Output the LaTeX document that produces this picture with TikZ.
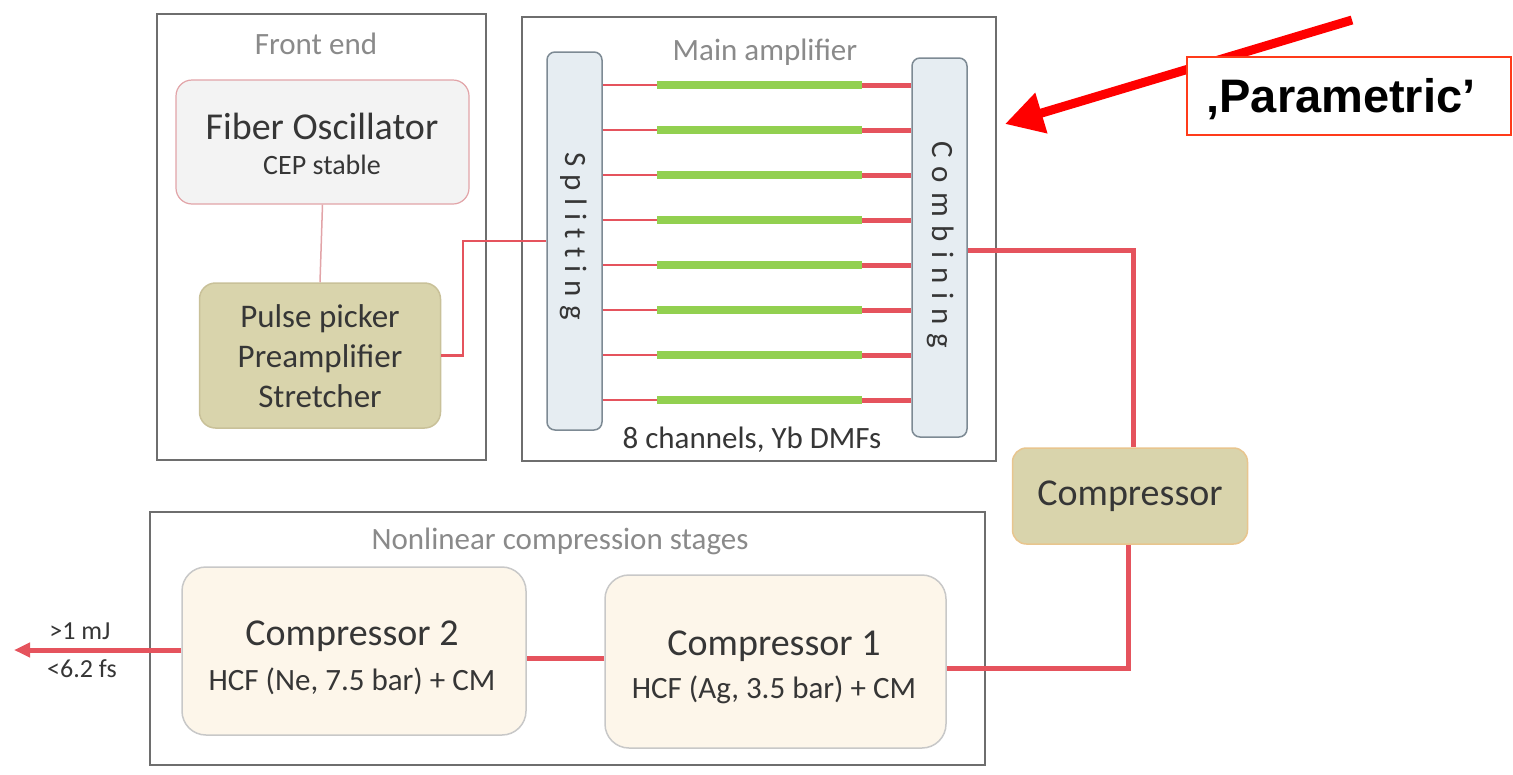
\documentclass[tikz,border=0pt]{standalone}
\usepackage{fontspec}
\setmainfont{Carlito}
\newfontfamily\arialfont{Liberation Sans}
\usetikzlibrary{arrows.meta,calc}
\definecolor{framegray}{HTML}{6E6E6E}
\definecolor{titlegray}{HTML}{8A8A8A}
\definecolor{textgray}{HTML}{363636}
\definecolor{oscfill}{HTML}{F3F3F3}
\definecolor{oscdraw}{HTML}{E2A4A8}
\definecolor{khaki}{HTML}{D9D4AC}
\definecolor{khakidraw}{HTML}{C9C199}
\definecolor{compdraw}{HTML}{E8C58E}
\definecolor{bluefill}{HTML}{E6EDF2}
\definecolor{bluedraw}{HTML}{7D8A94}
\definecolor{fibgreen}{HTML}{92D050}
\definecolor{beamred}{HTML}{E5535D}
\definecolor{creamfill}{HTML}{FDF6EA}
\definecolor{creamdraw}{HTML}{C8C8C8}
\definecolor{paramdraw}{HTML}{FF3B1A}
\begin{document}
\begin{tikzpicture}[x=1pt,y=-1pt,
  frame/.style={draw=framegray, line width=2.5pt, inner sep=0pt},
  title/.style={text=titlegray, font=\fontsize{31}{36}\selectfont},
  khakibox/.style={draw=khakidraw, fill=khaki, line width=1.5pt, rounded corners=16pt, text=textgray, align=center, inner sep=0pt},
  bluebox/.style={draw=bluedraw, fill=bluefill, line width=1.5pt, rounded corners=8pt, inner sep=0pt},
  creambox/.style={draw=creamdraw, fill=creamfill, line width=1.5pt, rounded corners=24pt, text=textgray, align=center, inner sep=0pt},
  thinbeam/.style={draw=beamred, line width=2pt},
  thickbeam/.style={draw=beamred, line width=5pt},
  fiber/.style={draw=fibgreen, line width=8pt}
]
\useasboundingbox[fill=white] (0,0) rectangle (1513,774);

% frames
\node[frame, minimum width=329, minimum height=446] (fe) at (321.5,237) {};
\node[frame, minimum width=474, minimum height=444] (ma) at (759,239) {};
\node[frame, minimum width=835, minimum height=253] (nl) at (567.5,638.5) {};

\node[title] (fet) at (316,44) {Front end};
\node[title] (mat) at (765,52) {Main amplifier};
\node[title] (nlt) at (560,541) {Nonlinear compression stages};
\node[title, text=textgray] (ch) at (752,440) {8 channels, Yb DMFs};

% front end
\node[draw=oscdraw, fill=oscfill, line width=1.2pt, rounded corners=16pt, minimum width=293, minimum height=124, align=center, text=textgray, inner sep=0pt] (osc) at (322.5,142) {};
\node[text=textgray, font=\fontsize{38}{40}\selectfont] (osct) at (322,126) {Fiber Oscillator};
\node[text=textgray, font=\fontsize{28}{30}\selectfont] (oscs) at (322,165) {CEP stable};
\node[khakibox, minimum width=241, minimum height=145] (pp) at (320,355.5) {};
\node[text=textgray, font=\fontsize{33}{35}\selectfont, align=center] (ppt) at (320,356) {Pulse picker\\[5pt]Preamplifier\\[5pt]Stretcher};
\draw[draw=oscdraw, line width=1.5pt] (osc.south) -- (pp.north);

% splitting / combining
\node[bluebox, minimum width=55, minimum height=378] (split) at (574.5,241) {};
\node[bluebox, minimum width=55, minimum height=379] (comb) at (939.5,247.5) {};
\node[rotate=-90, text=textgray, font=\fontsize{31}{33}\selectfont] (splitt) at (574,236) {S\kern8pt p\kern8pt l\kern8pt i\kern8pt t\kern8pt t\kern8pt i\kern8pt n\kern8pt g};
\node[rotate=-90, text=textgray, font=\fontsize{31}{33}\selectfont] (combt) at (941,245) {C\kern9pt o\kern9pt m\kern9pt b\kern9pt i\kern9pt n\kern9pt i\kern9pt n\kern9pt g};

\foreach \i in {0,...,7}{
  \pgfmathsetmacro{\yy}{85+45*\i}
  \draw[thinbeam] (split.east |- 0,\yy) -- (657,\yy);
  \draw[thickbeam] (860,\yy) -- (comb.west |- 0,\yy);
  \draw[fiber] (657,\yy) -- (862,\yy);
}

% front end to splitting
\coordinate (j1) at (463,300);
\draw[thinbeam, line width=2.5pt] (pp.east) -| (j1) |- (split.west);

% compressor
\node[khakibox, draw=compdraw, minimum width=235, minimum height=96, rounded corners=14pt, font=\fontsize{38}{40}\selectfont] (comp) at (1130,496) {Compressor};
\coordinate (j2) at (1133,250);
\draw[thickbeam] (comb.east |- j2) -- (j2) -- (j2 |- comp.north);

% nonlinear stages
\node[creambox, minimum width=344, minimum height=168] (c2) at (354,651) {};
\node[text=textgray, font=\fontsize{38}{40}\selectfont] (c2a) at (352,636) {Compressor 2};
\node[text=textgray, font=\fontsize{31}{33}\selectfont] (c2b) at (352,681) {HCF (Ne, 7.5 bar) + CM};
\node[creambox, minimum width=341, minimum height=173] (c1) at (775.5,661.5) {};
\node[text=textgray, font=\fontsize{38}{40}\selectfont] (c1a) at (774,646) {Compressor 1};
\node[text=textgray, font=\fontsize{31}{33}\selectfont] (c1b) at (774,690) {HCF (Ag, 3.5 bar) + CM};

\coordinate (j3) at (1128,668);
\draw[thickbeam] (comp.south -| j3) -- (j3) -- (c1.east |- j3);
\draw[thickbeam] (c1.west |- 0,658) -- (c2.east |- 0,658);
\coordinate (out) at (14,650);
\draw[thickbeam, -{Triangle[length=16pt,width=14pt]}] (c2.west |- out) -- (out);
\node[text=textgray, font=\fontsize{26}{28}\selectfont] (e1) at (80,631) {>1 mJ};
\node[text=textgray, font=\fontsize{26}{28}\selectfont] (e2) at (82,669) {<6.2 fs};

% parametric annotation
\coordinate (pa0) at (1352,20);
\coordinate (pa1) at (1005,124);
\draw[draw=red, line width=9pt, -{Triangle[length=38pt,width=40pt]}] (pa0) -- (pa1);
\node[draw=paramdraw, fill=white, line width=2pt, minimum width=324, minimum height=78, inner sep=0pt] (param) at (1349,96) {};
\node[font=\arialfont\bfseries\fontsize{47}{49}\selectfont] (paramt) at (1341,99) {‚Parametric’};
\end{tikzpicture}
\end{document}
